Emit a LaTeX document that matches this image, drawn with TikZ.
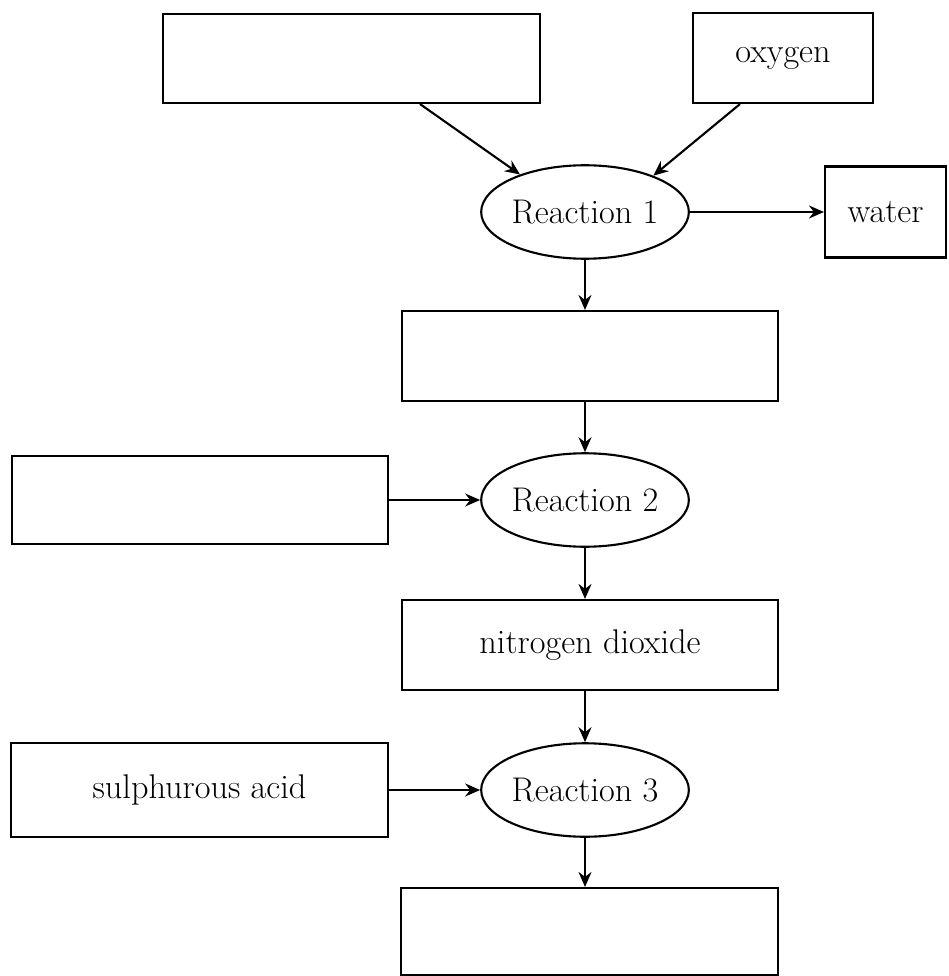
\documentclass[tikz,border=0pt]{standalone}
\usepackage{tikz}
\usetikzlibrary{shapes,arrows.meta}

\begin{document}
\begin{tikzpicture}[x=0.02cm, y=-0.02cm,
    every node/.style={font=\fontsize{19.5}{23}\selectfont},
    box/.style={draw, line width=1.2pt, rectangle},
    react/.style={draw, line width=1.2pt, ellipse, inner sep=0pt, minimum width=4.12cm, minimum height=1.87cm},
    flow/.style={line width=1.2pt, -{Stealth[length=3mm, width=2.6mm, inset=1mm]}}]
    \useasboundingbox (0,0) rectangle (948,976);

    % inputs to reaction 1
    \node[box, minimum width=7.54cm, minimum height=1.78cm] (fuel) at (351.5,58.5) {};
    \node[box, minimum width=3.6cm, minimum height=1.8cm] (oxy) at (783,58) {oxygen};
    \node[react] (r1) at (585,212) {Reaction 1};
    \node[box, minimum width=2.42cm, minimum height=1.82cm] (water) at (885.5,212) {water};

    \draw[flow] ([xshift=1.37cm]fuel.south) -- (r1.150);
    \draw[flow] ([xshift=-0.86cm]oxy.south) -- (r1.28);
    \draw[flow] (r1.east) -- (r1.east -| water.west);

    % middle chain
    \node[box, minimum width=7.52cm, minimum height=1.8cm] (mid) at (590,356) {};
    \node[react] (r2) at (585,500) {Reaction 2};
    \node[box, minimum width=7.52cm, minimum height=1.76cm] (left) at (200,500) {};
    \node[box, minimum width=7.52cm, minimum height=1.8cm] (no2) at (590,645) {nitrogen dioxide};

    \draw[flow] (r1.south) -- (r1.south |- mid.north);
    \draw[flow] (mid.south -| r2.north) -- (r2.north);
    \draw[flow] (left.east) -- (r2.west);
    \draw[flow] (r2.south) -- (r2.south |- no2.north);

    % reaction 3
    \node[react] (r3) at (585,790) {Reaction 3};
    \node[box, minimum width=7.54cm, minimum height=1.88cm] (acid) at (199.5,790) {sulphurous acid};
    \node[box, minimum width=7.54cm, minimum height=1.74cm] (prod) at (589.5,931.5) {};

    \draw[flow] (no2.south -| r3.north) -- (r3.north);
    \draw[flow] (acid.east) -- (r3.west);
    \draw[flow] (r3.south) -- (r3.south |- prod.north);
\end{tikzpicture}
\end{document}
